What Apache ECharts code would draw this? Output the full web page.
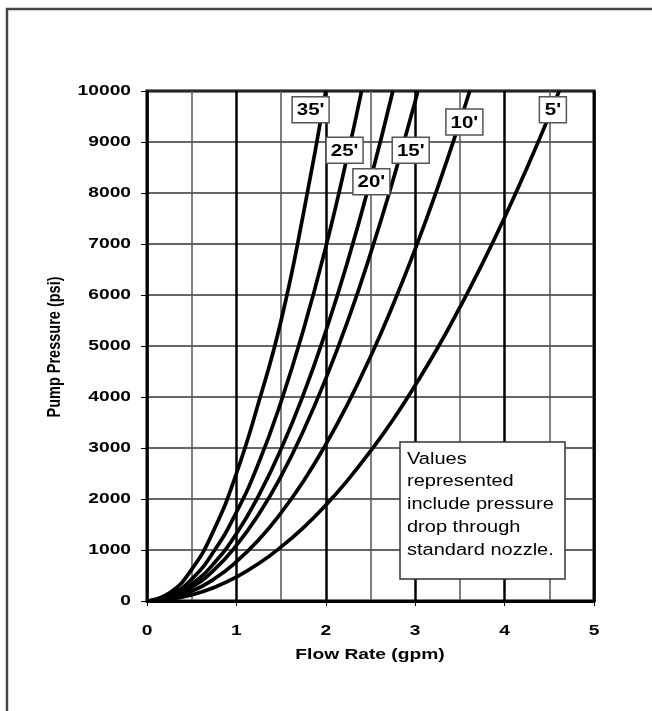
<!DOCTYPE html>
<html>
<head>
<meta charset="utf-8">
<script src="https://cdn.jsdelivr.net/npm/echarts@6/dist/echarts.min.js"></script>
<style>
html,body{margin:0;padding:0;background:#fff;}
#chart{width:652px;height:711px;}
</style>
</head>
<body>
<div id="chart"></div>
<script>
// Flow rate sample points (gpm) and pump pressure (psi) read per hose length
var q5  = [0,0.25,0.5,0.75,1,1.25,1.5,1.75,2,2.25,2.5,2.75,3,3.25,3.5,3.75,4,4.25,4.5,4.61];
var p5  = [0,30,120,265,470,735,1060,1440,1880,2380,2940,3550,4230,4960,5760,6610,7520,8490,9520,10000];
var q10 = [0,0.25,0.5,0.75,1,1.25,1.5,1.75,2,2.25,2.5,2.75,3,3.25,3.5,3.61];
var p10 = [0,50,190,430,770,1200,1730,2350,3070,3880,4790,5800,6900,8100,9400,10000];
var q15 = [0,0.25,0.5,0.75,1,1.25,1.5,1.75,2,2.25,2.5,2.75,3,3.03];
var p15 = [0,70,270,610,1090,1700,2450,3340,4360,5510,6810,8240,9800,10000];
var q20 = [0,0.25,0.5,0.75,1,1.25,1.5,1.75,2,2.25,2.5,2.75];
var p20 = [0,80,330,740,1320,2070,2980,4050,5290,6690,8260,10000];
var q25 = [0,0.25,0.5,0.75,1,1.25,1.5,1.75,2,2.25,2.4];
var p25 = [0,110,430,980,1740,2710,3910,5320,6940,8790,10000];
var q35 = [0,0.25,0.5,0.75,1,1.25,1.5,1.75,2];
var p35 = [0,155,620,1400,2500,3900,5500,7600,10000];

var curveNames = ["5'", "10'", "15'", "20'", "25'", "35'"];
// label anchor (flow, pressure) for each curve tag
var labelQ = [4.54, 3.55, 2.95, 2.51, 2.21, 1.83];
var labelP = [9630, 9390, 8840, 8220, 8840, 9630];

var xTicks = [0,1,2,3,4,5];
var yTicks = [0,1000,2000,3000,4000,5000,6000,7000,8000,9000,10000];
var xTitle = 'Flow Rate (gpm)';
var yTitle = 'Pump Pressure (psi)';
var noteLines = ["Values", "represented", "include pressure", "drop through", "standard nozzle."];

function pairs(q, p){ return q.map(function(v,i){ return [v, p[i]]; }); }
var curves = [pairs(q5,p5), pairs(q10,p10), pairs(q15,p15), pairs(q20,p20), pairs(q25,p25), pairs(q35,p35)];

var FONT = '"Liberation Sans", Arial, sans-serif';
var SX = 1.28; // horizontal stretch of the lettering in the original
var chart = echarts.init(document.getElementById('chart'), null, {renderer:'canvas'});

var series = curves.map(function(d, i){
  return {
    type:'line', name: curveNames[i], data: d, smooth: true, symbol:'none',
    lineStyle:{color:'#000', width:3.7}, z: 3, silent:true
  };
});

chart.setOption({
  animation:false,
  backgroundColor:'#fff',
  grid:{left:147, right:58, top:91, bottom:110, show:true, borderColor:'#000', borderWidth:3, backgroundColor:'transparent'},
  xAxis:{
    type:'value', min:0, max:5, interval:1,
    axisLine:{show:true, lineStyle:{color:'#000', width:3}},
    axisTick:{show:true, length:5, lineStyle:{color:'#000', width:1}},
    axisLabel:{show:false},
    splitLine:{show:true, lineStyle:{color:'#000', width:2.5}},
    minorTick:{show:false, splitNumber:2},
    minorSplitLine:{show:true, lineStyle:{color:'#555', width:1.5}}
  },
  yAxis:{
    type:'value', min:0, max:10000, interval:1000,
    axisLine:{show:true, lineStyle:{color:'#000', width:2}},
    axisTick:{show:true, length:6, lineStyle:{color:'#000', width:1}},
    axisLabel:{show:false},
    splitLine:{show:true, lineStyle:{color:'#333', width:1.5}}
  },
  series: series
});

function px(q, p){ return chart.convertToPixel({gridIndex:0}, [q, p]); }
var boldFont = 'bold 15px ' + FONT;
var g = [];
// outer frame
g.push({type:'polyline', shape:{points:[[7,711],[7,9],[652,9]]}, style:{stroke:'#444', lineWidth:2.5, fill:null}, z:0});
// x tick labels
xTicks.forEach(function(v){
  var pt = px(v, 0);
  g.push({type:'text', x: pt[0], y: 631, scaleX: SX, z:50,
    style:{text:String(v), font:boldFont, fill:'#000', align:'center', verticalAlign:'middle'}});
});
// y tick labels
yTicks.forEach(function(v){
  var pt = px(0, v);
  g.push({type:'text', x: 131, y: pt[1], scaleX: SX, z:50,
    style:{text:String(v), font:boldFont, fill:'#000', align:'right', verticalAlign:'middle'}});
});
// axis titles
g.push({type:'text', x: 370, y: 655, scaleX: SX, z:50,
  style:{text:xTitle, font:boldFont, fill:'#000', align:'center', verticalAlign:'middle'}});
g.push({type:'text', x: 55, y: 347, rotation: Math.PI/2, scaleY: SX, z:50,
  style:{text:yTitle, font:'bold 14.5px ' + FONT, fill:'#000', align:'center', verticalAlign:'middle'}});
// curve tags
curveNames.forEach(function(n, i){
  var pt = px(labelQ[i], labelP[i]);
  var w = n.length > 2 ? 37 : 27;
  g.push({type:'rect', shape:{x: pt[0]-w/2, y: pt[1]-13, width:w, height:26}, z:60,
    style:{fill:'#fff', stroke:'#555', lineWidth:1.5}});
  g.push({type:'text', x: pt[0], y: pt[1]+1, scaleX: SX, z:61,
    style:{text:n, font:'bold 16px ' + FONT, fill:'#000', align:'center', verticalAlign:'middle'}});
});
// note box
g.push({type:'rect', shape:{x:400, y:442, width:165, height:137}, z:60,
  style:{fill:'#fff', stroke:'#333', lineWidth:1.5}});
g.push({type:'text', x:407, y:448, scaleX: 1.25, z:61,
  style:{text: noteLines.join('\n'), font:'16px ' + FONT, fill:'#000', lineHeight:22.7, align:'left', verticalAlign:'top'}});

chart.setOption({graphic: g});
</script>
</body>
</html>
